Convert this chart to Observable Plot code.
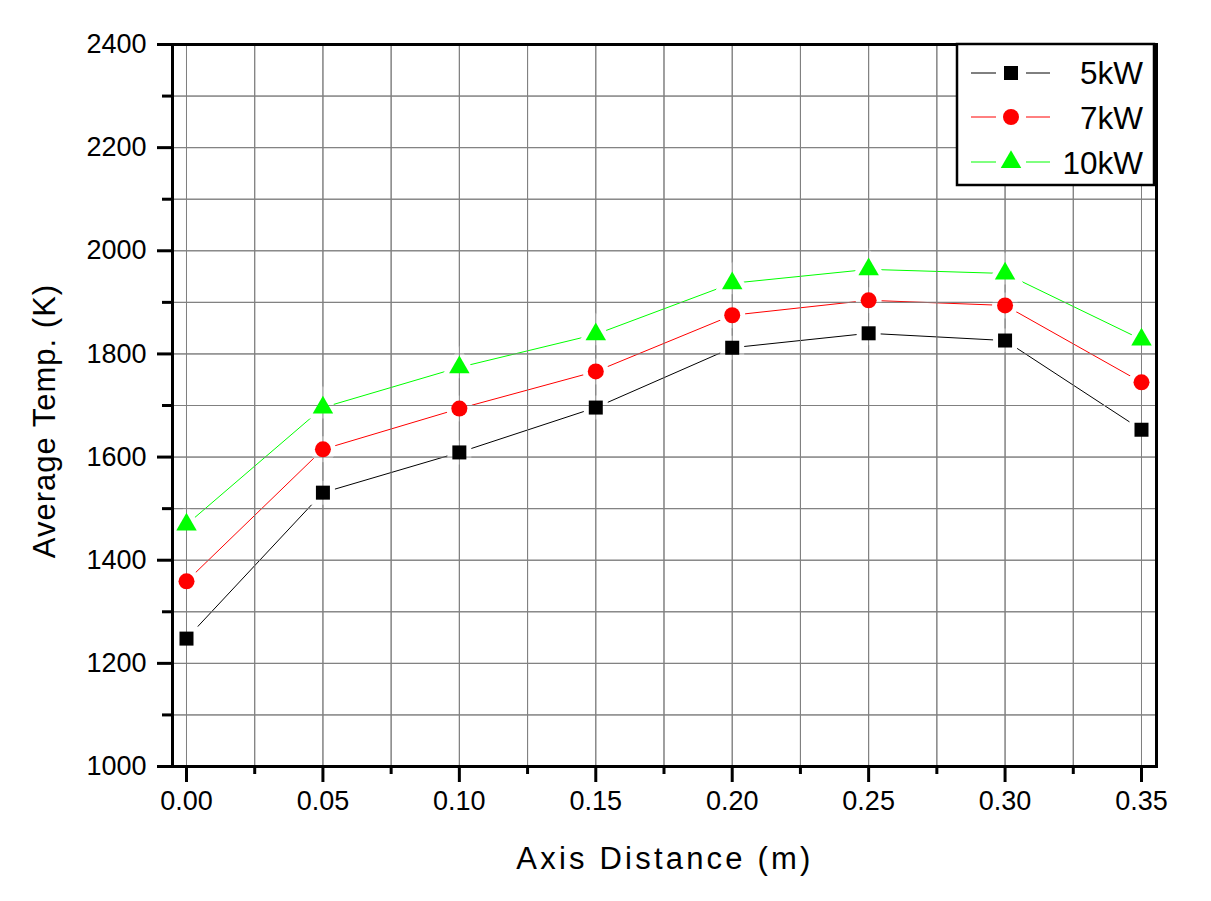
<!DOCTYPE html>
<html>
<head>
<meta charset="utf-8">
<script src="https://cdn.jsdelivr.net/npm/d3@7"></script>
<script src="https://cdn.jsdelivr.net/npm/@observablehq/plot@0.6"></script>
<style>
  html, body { margin: 0; padding: 0; background: #fff; }
  #chart { width: 1211px; height: 901px; }
</style>
</head>
<body>
<div id="chart"></div>
<script>
// ---- data ----
const distances = [0.00, 0.05, 0.10, 0.15, 0.20, 0.25, 0.30, 0.35];
const temp5kW  = [1248, 1531, 1609, 1696, 1812, 1840, 1826, 1653];
const temp7kW  = [1359, 1615, 1694, 1766, 1875, 1904, 1894, 1745];
const temp10kW = [1469, 1696, 1774, 1838, 1937, 1964, 1956, 1828];
const seriesNames = ["5kW", "7kW", "10kW"];
const seriesValues = [temp5kW, temp7kW, temp10kW];
const seriesColors = ["#000000", "#ff0000", "#00ff00"];
const seriesSymbols = ["square", "circle", "triangle"];
const seriesRadius = [7.9, 8, 7.6];
const xMajorTicks = [0.00, 0.05, 0.10, 0.15, 0.20, 0.25, 0.30, 0.35];
const xMinorTicks = [0.025, 0.075, 0.125, 0.175, 0.225, 0.275, 0.325];
const yMajorTicks = [1000, 1200, 1400, 1600, 1800, 2000, 2200, 2400];
const yMinorTicks = [1100, 1300, 1500, 1700, 1900, 2100, 2300];
const xGrid = [0, 0.025, 0.05, 0.075, 0.1, 0.125, 0.15, 0.175, 0.2, 0.225, 0.25, 0.275, 0.3, 0.325, 0.35];
const yGrid = [1100, 1200, 1300, 1400, 1500, 1600, 1700, 1800, 1900, 2000, 2100, 2200, 2300];
const xTitle = "Axis Distance (m)";
const yTitle = "Average Temp. (K)";

const rows = seriesNames.map((name, i) =>
  distances.map((x, j) => ({series: name, x, y: seriesValues[i][j]})));

const font = "'Liberation Sans', Arial, sans-serif";
const makeGrid = () => [
  Plot.gridX(xGrid, {stroke: "#808080", strokeOpacity: 1, strokeWidth: 1}),
  Plot.gridY(yGrid, {stroke: "#808080", strokeOpacity: 1, strokeWidth: 1})
];

const marks = [...makeGrid()];
rows.forEach((r, i) => marks.push(Plot.line(r, {x: "x", y: "y", stroke: seriesColors[i], strokeWidth: 1})));
rows.forEach((r, i) => marks.push(Plot.dot(r, {x: "x", y: "y", symbol: () => seriesSymbols[i], r: seriesRadius[i], fill: "white", stroke: "white", strokeWidth: 10})));
marks.push(...makeGrid());
rows.forEach((r, i) => marks.push(Plot.dot(r, {x: "x", y: "y", symbol: () => seriesSymbols[i], r: seriesRadius[i], fill: seriesColors[i], stroke: "none"})));
marks.push(
  Plot.axisX({ticks: xMajorTicks, tickSize: 16, tickPadding: 8, strokeWidth: 3, tickFormat: d3.format(".2f"), label: null, fontSize: 27}),
  Plot.axisX({ticks: xMinorTicks, tickSize: 8, strokeWidth: 3, text: null, label: null}),
  Plot.axisY({ticks: yMajorTicks, tickSize: 15, tickPadding: 11, strokeWidth: 3, tickFormat: d3.format("d"), label: null, fontSize: 27}),
  Plot.axisY({ticks: yMinorTicks, tickSize: 10, strokeWidth: 3, text: null, label: null}),
  Plot.frame({stroke: "black", strokeWidth: 3})
);

const chart = Plot.plot({
  width: 1211,
  height: 901,
  marginLeft: 172,
  marginRight: 55,
  marginTop: 44,
  marginBottom: 135,
  style: {fontFamily: font, fontSize: "27px", color: "black", background: "white"},
  x: {domain: [-0.00513, 0.3555]},
  y: {domain: [1000, 2400]},
  symbol: {type: "identity"},
  marks
});

document.getElementById("chart").appendChild(chart);

// ---- axis titles and legend ----
const svg = d3.select(chart);
svg.append("text")
  .attr("x", 665).attr("y", 869)
  .attr("text-anchor", "middle")
  .attr("font-family", font).attr("font-size", 31)
  .attr("letter-spacing", "3.2px")
  .attr("fill", "black")
  .text(xTitle);
svg.append("text")
  .attr("transform", "translate(55,421) rotate(-90)")
  .attr("text-anchor", "middle")
  .attr("font-family", font).attr("font-size", 31)
  .attr("letter-spacing", "1px")
  .attr("fill", "black")
  .text(yTitle);

const lg = svg.append("g");
lg.append("rect").attr("x", 957).attr("y", 44).attr("width", 197).attr("height", 141)
  .attr("fill", "white").attr("stroke", "black").attr("stroke-width", 2.5);
const d3Symbols = {square: d3.symbolSquare, circle: d3.symbolCircle, triangle: d3.symbolTriangle};
const entryY = [73, 117, 162];
const baseY = [84, 129, 174];
seriesNames.forEach((name, i) => {
  const y = entryY[i];
  lg.append("line").attr("x1", 971).attr("x2", 996).attr("y1", y).attr("y2", y)
    .attr("stroke", seriesColors[i]).attr("stroke-width", 1);
  lg.append("line").attr("x1", 1026).attr("x2", 1050).attr("y1", y).attr("y2", y)
    .attr("stroke", seriesColors[i]).attr("stroke-width", 1);
  const r = seriesRadius[i];
  lg.append("path")
    .attr("d", d3.symbol(d3Symbols[seriesSymbols[i]], Math.PI * r * r)())
    .attr("transform", `translate(1011,${y})`)
    .attr("fill", seriesColors[i]);
  lg.append("text").attr("x", 1143).attr("y", baseY[i])
    .attr("text-anchor", "end")
    .attr("font-family", font).attr("font-size", 31.5)
    .attr("fill", "black")
    .text(name);
});
</script>
</body>
</html>
